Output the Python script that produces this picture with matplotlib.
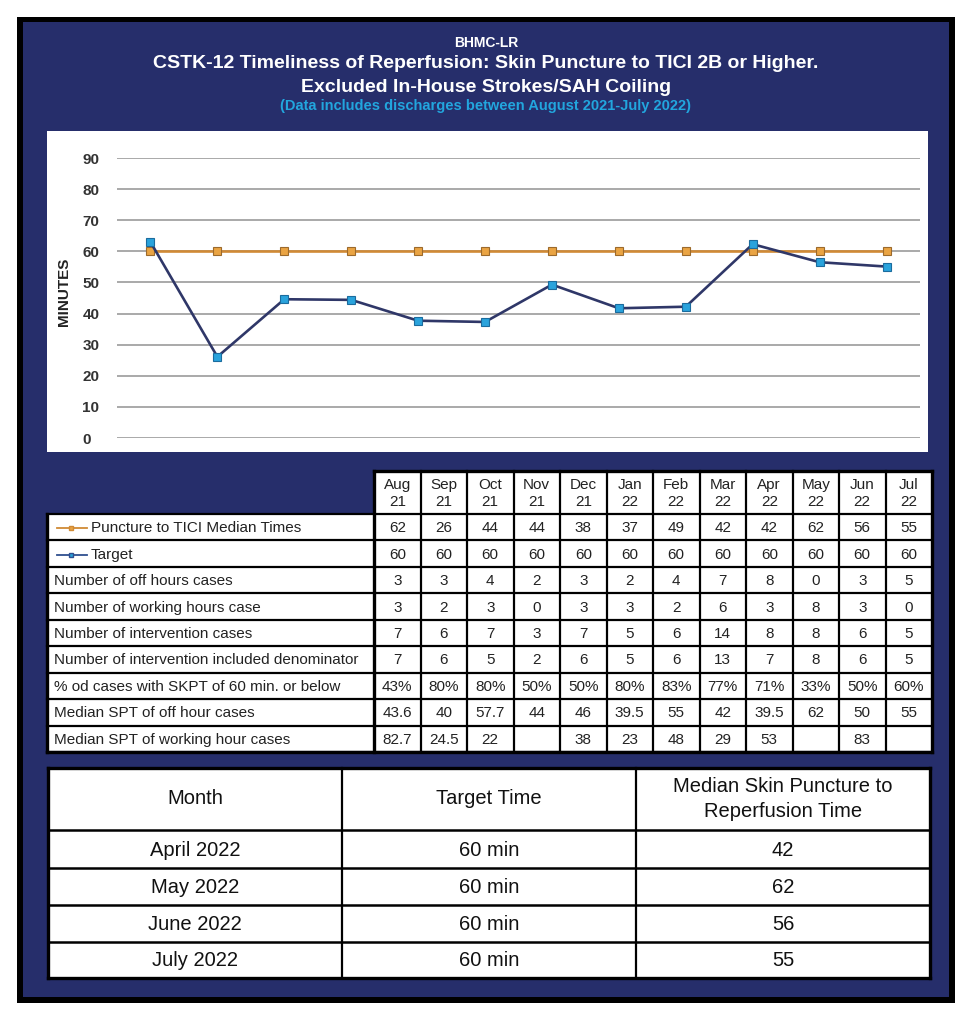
import matplotlib
matplotlib.use('Agg')
import matplotlib.pyplot as plt
from matplotlib.patches import Rectangle

# chart data
months = ['Aug\n21', 'Sep\n21', 'Oct\n21', 'Nov\n21', 'Dec\n21', 'Jan\n22',
          'Feb\n22', 'Mar\n22', 'Apr\n22', 'May\n22', 'Jun\n22', 'Jul\n22']
median_line = [63.0, 26.1, 44.6, 44.4, 37.7, 37.3, 49.3, 41.7, 42.2, 62.3, 56.5, 55.1]
target_line = [60, 60, 60, 60, 60, 60, 60, 60, 60, 60, 60, 60]
y_ticks = [0, 10, 20, 30, 40, 50, 60, 70, 80, 90]

# data table
row_labels = ['Puncture to TICI Median Times', 'Target', 'Number of off hours cases',
              'Number of working hours case', 'Number of intervention cases',
              'Number of intervention included denominator',
              '% od cases with SKPT of 60 min. or below',
              'Median SPT of off hour cases', 'Median SPT of working hour cases']
row_median = ['62', '26', '44', '44', '38', '37', '49', '42', '42', '62', '56', '55']
row_target = ['60', '60', '60', '60', '60', '60', '60', '60', '60', '60', '60', '60']
row_off = ['3', '3', '4', '2', '3', '2', '4', '7', '8', '0', '3', '5']
row_work = ['3', '2', '3', '0', '3', '3', '2', '6', '3', '8', '3', '0']
row_interv = ['7', '6', '7', '3', '7', '5', '6', '14', '8', '8', '6', '5']
row_denom = ['7', '6', '5', '2', '6', '5', '6', '13', '7', '8', '6', '5']
row_pct = ['43%', '80%', '80%', '50%', '50%', '80%', '83%', '77%', '71%', '33%', '50%', '60%']
row_spt_off = ['43.6', '40', '57.7', '44', '46', '39.5', '55', '42', '39.5', '62', '50', '55']
row_spt_work = ['82.7', '24.5', '22', '', '38', '23', '48', '29', '53', '', '83', '']
table_rows = [row_median, row_target, row_off, row_work, row_interv, row_denom,
              row_pct, row_spt_off, row_spt_work]

# summary table
summary_header = ['Month', 'Target Time', 'Median Skin Puncture to\nReperfusion Time']
summary_month = ['April 2022', 'May 2022', 'June 2022', 'July 2022']
summary_target = ['60 min', '60 min', '60 min', '60 min']
summary_median = ['42', '62', '56', '55']

NAVY = '#262e6b'
ORANGE = '#d08a35'
BLUE_LINE = '#2f3768'
CYAN = '#22a6de'
TXT = '#222222'

plt.rcParams['font.family'] = ['Liberation Sans', 'DejaVu Sans']

W, H = 971, 1024
fig = plt.figure(figsize=(W / 100, H / 100), dpi=100)
fig.patch.set_facecolor('white')

# overlay axes in pixel coordinates for the frame and the tables
ov = fig.add_axes([0, 0, 1, 1])
ov.set_xlim(0, W)
ov.set_ylim(H, 0)
ov.axis('off')

ov.add_patch(Rectangle((17, 17), 938, 986, facecolor='black', edgecolor='none'))
ov.add_patch(Rectangle((23, 22), 926, 975, facecolor=NAVY, edgecolor='none'))
ov.add_patch(Rectangle((47, 131), 881, 321, facecolor='white', edgecolor='none'))

cx = 486
ov.text(cx, 43, 'BHMC-LR', color='white', fontsize=10, fontweight='bold',
        ha='center', va='center')
ov.text(cx, 64, 'CSTK-12 Timeliness of Reperfusion: Skin Puncture to TICI 2B or Higher.',
        color='white', fontsize=14, fontweight='bold', ha='center', va='center')
ov.text(cx, 87, 'Excluded In-House Strokes/SAH Coiling', color='white', fontsize=14,
        fontweight='bold', ha='center', va='center')
ov.text(cx, 106, '(Data includes discharges between August 2021-July 2022)', color=CYAN,
        fontsize=10.5, fontweight='bold', ha='center', va='center')
ov.text(64, 292, 'MINUTES', rotation=90, fontsize=11, fontweight='bold', color=TXT,
        ha='center', va='center')

# line chart
ax = fig.add_axes([117 / W, 1 - 438 / H, (920 - 117) / W, (438 - 158) / H])
ax.set_facecolor('none')
x = list(range(len(months)))
ax.plot(x, target_line, color=ORANGE, lw=1.9, marker='s', ms=5.5,
        mfc='#eaa443', mec='#9c6a2c', mew=0.8, clip_on=False, zorder=3)
ax.plot(x, median_line, color=BLUE_LINE, lw=1.9, marker='s', ms=5.5,
        mfc='#2aa3dc', mec='#1b6c9e', mew=0.8, clip_on=False, zorder=4)
ax.set_xlim(-0.5, len(months) - 0.5)
ax.set_ylim(0, 90)
ax.set_yticks(y_ticks, [str(t) for t in y_ticks], ha='left', fontsize=11,
              fontweight='bold', color='#333333')
ax.set_xticks([])
ax.tick_params(axis='y', length=0, pad=25)
for s in ax.spines.values():
    s.set_visible(False)
ax.yaxis.grid(True, color='#a3a3a3', lw=1.3)
ax.set_axisbelow(True)

# data table
col_x = [374 + i * (932 - 374) / 12 for i in range(13)]
head_top, head_bot = 471, 514
row_h = (752 - 514) / 9
row_y = [head_bot + i * row_h for i in range(10)]
ov.add_patch(Rectangle((374, head_top), 558, head_bot - head_top, facecolor='white', edgecolor='none'))
ov.add_patch(Rectangle((47, head_bot), 885, 752 - head_bot, facecolor='white', edgecolor='none'))
lw = 1.6
for yy in row_y:
    ov.plot([47, 932], [yy, yy], color='black', lw=lw, solid_capstyle='projecting')
ov.plot([374, 932], [head_top, head_top], color='black', lw=2.4, solid_capstyle='projecting')
ov.plot([47, 932], [752, 752], color='black', lw=2.4, solid_capstyle='projecting')
ov.plot([47, 47], [head_bot, 752], color='black', lw=2.4, solid_capstyle='projecting')
for i, xx in enumerate(col_x):
    ov.plot([xx, xx], [head_top, 752], color='black', lw=2.4 if i in (0, 12) else lw,
            solid_capstyle='projecting')

for j, m in enumerate(months):
    mid = (col_x[j] + col_x[j + 1]) / 2
    ov.text(mid, (head_top + head_bot) / 2 + 1, m, fontsize=11, ha='center', va='center',
            color=TXT, linespacing=1.25)
for i, (lab, vals) in enumerate(zip(row_labels, table_rows)):
    yc = (row_y[i] + row_y[i + 1]) / 2 + 1
    lx = 54
    if i < 2:
        lc = ORANGE if i == 0 else '#2f4f8f'
        fc = '#eaa443' if i == 0 else '#2aa3dc'
        ov.plot([57, 87], [yc, yc], color=lc, lw=1.3)
        ov.plot([71], [yc], color=lc, marker='s', ms=3.5, mfc=fc, mec=lc, ls='none')
        lx = 91
    ov.text(lx, yc, lab, fontsize=11, ha='left', va='center', color=TXT)
    for j, v in enumerate(vals):
        mid = (col_x[j] + col_x[j + 1]) / 2
        ov.text(mid, yc, v, fontsize=11, ha='center', va='center', color=TXT)

# summary table
s_cols = [48, 342, 636, 930]
s_rows = [768, 830, 868, 905, 942, 978]
ov.add_patch(Rectangle((48, 768), 882, 210, facecolor='white', edgecolor='none'))
for k, yy in enumerate(s_rows):
    ov.plot([48, 930], [yy, yy], color='black', lw=2.4 if k in (0, 5) else 1.8,
            solid_capstyle='projecting')
for k, xx in enumerate(s_cols):
    ov.plot([xx, xx], [768, 978], color='black', lw=2.4 if k in (0, 3) else 1.6,
            solid_capstyle='projecting')
for j, h in enumerate(summary_header):
    mid = (s_cols[j] + s_cols[j + 1]) / 2
    ov.text(mid, (s_rows[0] + s_rows[1]) / 2, h, fontsize=14.5, ha='center', va='center',
            color='#111111', linespacing=1.35)
for i, cells in enumerate(zip(summary_month, summary_target, summary_median)):
    yc = (s_rows[i + 1] + s_rows[i + 2]) / 2 + 1
    for j, c in enumerate(cells):
        mid = (s_cols[j] + s_cols[j + 1]) / 2
        ov.text(mid, yc, c, fontsize=14.5, ha='center', va='center', color='#111111')

fig.savefig('out.png', dpi=100)
